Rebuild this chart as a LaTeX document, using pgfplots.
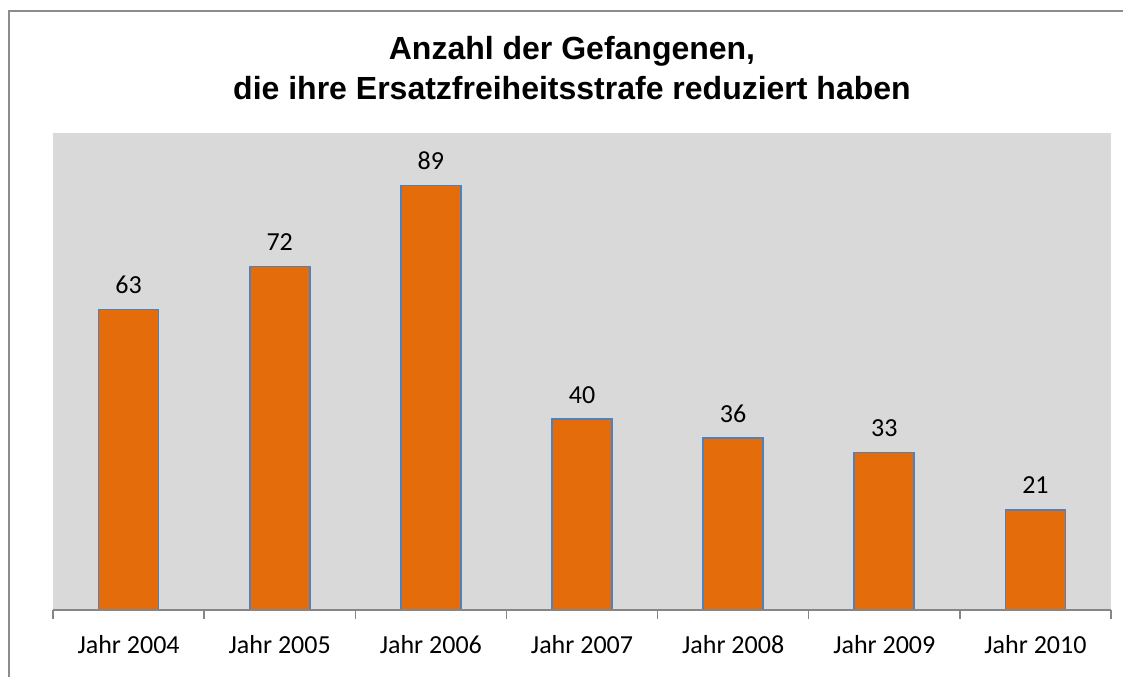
\documentclass[border=0pt]{standalone}
\usepackage{pgfplots}
\pgfplotsset{compat=1.18}
\usepackage{fontspec}
\setmainfont{Carlito}
\setsansfont{Liberation Sans}
\definecolor{barorange}{HTML}{E46C0A}
\definecolor{baredge}{HTML}{4F81BD}
\definecolor{plotbg}{HTML}{D9D9D9}
\definecolor{axisgray}{HTML}{868686}
\definecolor{framegray}{HTML}{8C8C8C}

\begin{document}
\begin{tikzpicture}
% picture is 1123 x 677 px, 1px = 0.75pt
\path[use as bounding box] (0pt,0pt) rectangle (842.25pt,507.75pt);
\draw[framegray, line width=1.6pt] (6.75pt,0pt) -- (6.75pt,499.5pt) -- (842.25pt,499.5pt);

\node[font=\sffamily\bfseries\fontsize{24}{30}\selectfont, align=center] at (429pt,456.75pt)
  {Anzahl der Gefangenen,\\die ihre Ersatzfreiheitsstrafe reduziert haben};

\begin{axis}[
  at={(39.75pt,50.25pt)}, anchor=south west,
  scale only axis,
  width=793.5pt, height=357.75pt,
  xmin=-0.5, xmax=6.5,
  ymin=0, ymax=100,
  axis background/.style={fill=plotbg},
  axis line style={draw=none},
  ybar, bar width=45pt,
  xtick={-0.5,0.5,...,6.5},
  x tick label as interval,
  xticklabels={Jahr 2004,Jahr 2005,Jahr 2006,Jahr 2007,Jahr 2008,Jahr 2009,Jahr 2010},
  x tick style={draw=axisgray, line width=1pt},
  major tick length=6.75pt, tick align=outside,
  xtick pos=bottom,
  x tick label style={font=\fontsize{19.5}{22}\selectfont, yshift=-9pt},
  ytick=\empty,
  nodes near coords,
  every node near coord/.append style={font=\fontsize{19.5}{22}\selectfont, black, yshift=8pt,
    /pgf/number format/assume math mode=true},
  clip=false,
]
\addplot[fill=barorange, draw=baredge, line width=1.2pt] coordinates {(0,63) (1,72) (2,89) (3,40) (4,36) (5,33) (6,21)};
\draw[axisgray, line width=1.2pt] (axis cs:-0.5,0) -- (axis cs:6.5,0);
\end{axis}
\end{tikzpicture}
\end{document}
